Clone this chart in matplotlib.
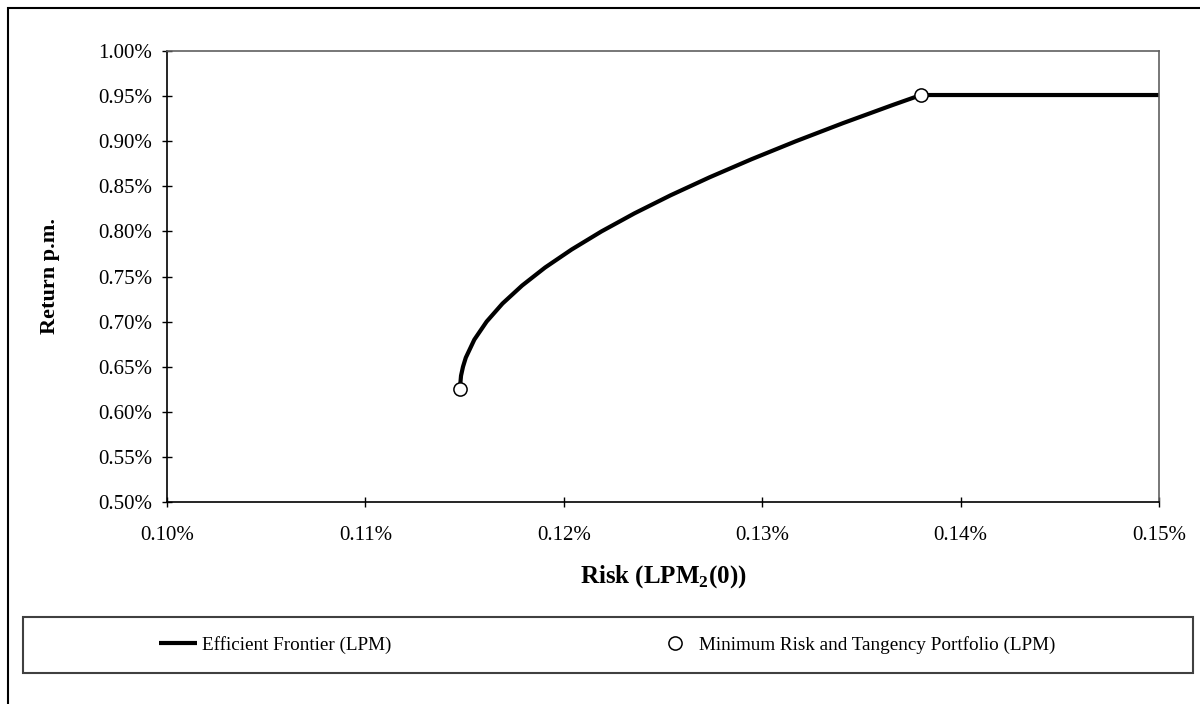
import numpy as np
import matplotlib
matplotlib.use("Agg")
import matplotlib.pyplot as plt
from matplotlib.patches import Rectangle
from matplotlib.ticker import FuncFormatter, MultipleLocator

# Data (percent values)
frontier_return = [0.6253, 0.630, 0.640, 0.650, 0.660, 0.680, 0.700, 0.720, 0.740,
                   0.760, 0.780, 0.800, 0.820, 0.840, 0.860, 0.880, 0.900, 0.920,
                   0.940, 0.9512, 0.9512]
frontier_risk = [0.11477, 0.11478, 0.11482, 0.11492, 0.11506, 0.11549, 0.11611,
                 0.11691, 0.11790, 0.11906, 0.12040, 0.12190, 0.12356, 0.12538,
                 0.12735, 0.12946, 0.13170, 0.13407, 0.13656, 0.13800, 0.15000]

points_risk = [0.11477, 0.13800]
points_return = [0.6253, 0.9512]

plt.rcParams['font.family'] = ['Liberation Serif', 'DejaVu Serif']
plt.rcParams['mathtext.fontset'] = 'custom'
plt.rcParams['mathtext.rm'] = 'Liberation Serif'
plt.rcParams['mathtext.bf'] = 'Liberation Serif:bold'

W, H = 1200, 704
fig = plt.figure(figsize=(W / 100, H / 100), dpi=100)
ax = fig.add_axes([167 / W, 1 - 502 / H, 992 / W, 451 / H])

line, = ax.plot(frontier_risk, frontier_return, color='black', lw=3,
                solid_capstyle='butt', label='Efficient Frontier (LPM)')
pts, = ax.plot(points_risk, points_return, ls='none', marker='o', ms=9.5,
               mfc='white', mec='black', mew=1.1,
               label='Minimum Risk and Tangency Portfolio (LPM)')

ax.set_xlim(0.10, 0.15)
ax.set_ylim(0.50, 1.00)
ax.xaxis.set_major_locator(MultipleLocator(0.01))
ax.yaxis.set_major_locator(MultipleLocator(0.05))
ax.xaxis.set_major_formatter(FuncFormatter(lambda v, p: f'{v:.2f}%'))
ax.yaxis.set_major_formatter(FuncFormatter(lambda v, p: f'{v:.2f}%'))
ax.tick_params(axis='both', direction='inout', length=7, width=1,
               labelsize=15, colors='black')
ax.tick_params(axis='x', pad=14)
ax.tick_params(axis='y', pad=7)

for s in ['left', 'bottom']:
    ax.spines[s].set_color('black')
    ax.spines[s].set_linewidth(1.2)
for s in ['top', 'right']:
    ax.spines[s].set_color('#606060')
    ax.spines[s].set_linewidth(1.2)

ax.set_xlabel(r'Risk (LPM$_\mathbf{2}$(0))', fontsize=18, fontweight='bold')
ax.xaxis.set_label_coords(0.5, -(577 - 502) / 451, transform=ax.transAxes)
ax.xaxis.label.set_va('center')
ax.set_ylabel('Return p.m.', fontsize=16, fontweight='bold')
ax.yaxis.set_label_coords(-(167 - 50) / 992, 0.5, transform=ax.transAxes)
ax.yaxis.label.set_va('center')

# outer chart frame
fig.patches.append(Rectangle((8 / W, -0.2), 1.3, 1.2 - 8 / H, transform=fig.transFigure,
                             fill=False, ec='black', lw=1.5))
# legend frame
fig.patches.append(Rectangle((23 / W, 1 - 673 / H), 1170 / W, 56 / H,
                             transform=fig.transFigure, fill=False,
                             ec='#404040', lw=1.5))
fig.legend(handles=[line, pts], loc='center', bbox_to_anchor=(607 / W, 1 - 645 / H),
           ncol=2, frameon=False, fontsize=13.8, handlelength=2.0,
           handletextpad=0.26, columnspacing=13.8)

fig.savefig('out.png', dpi=100)
